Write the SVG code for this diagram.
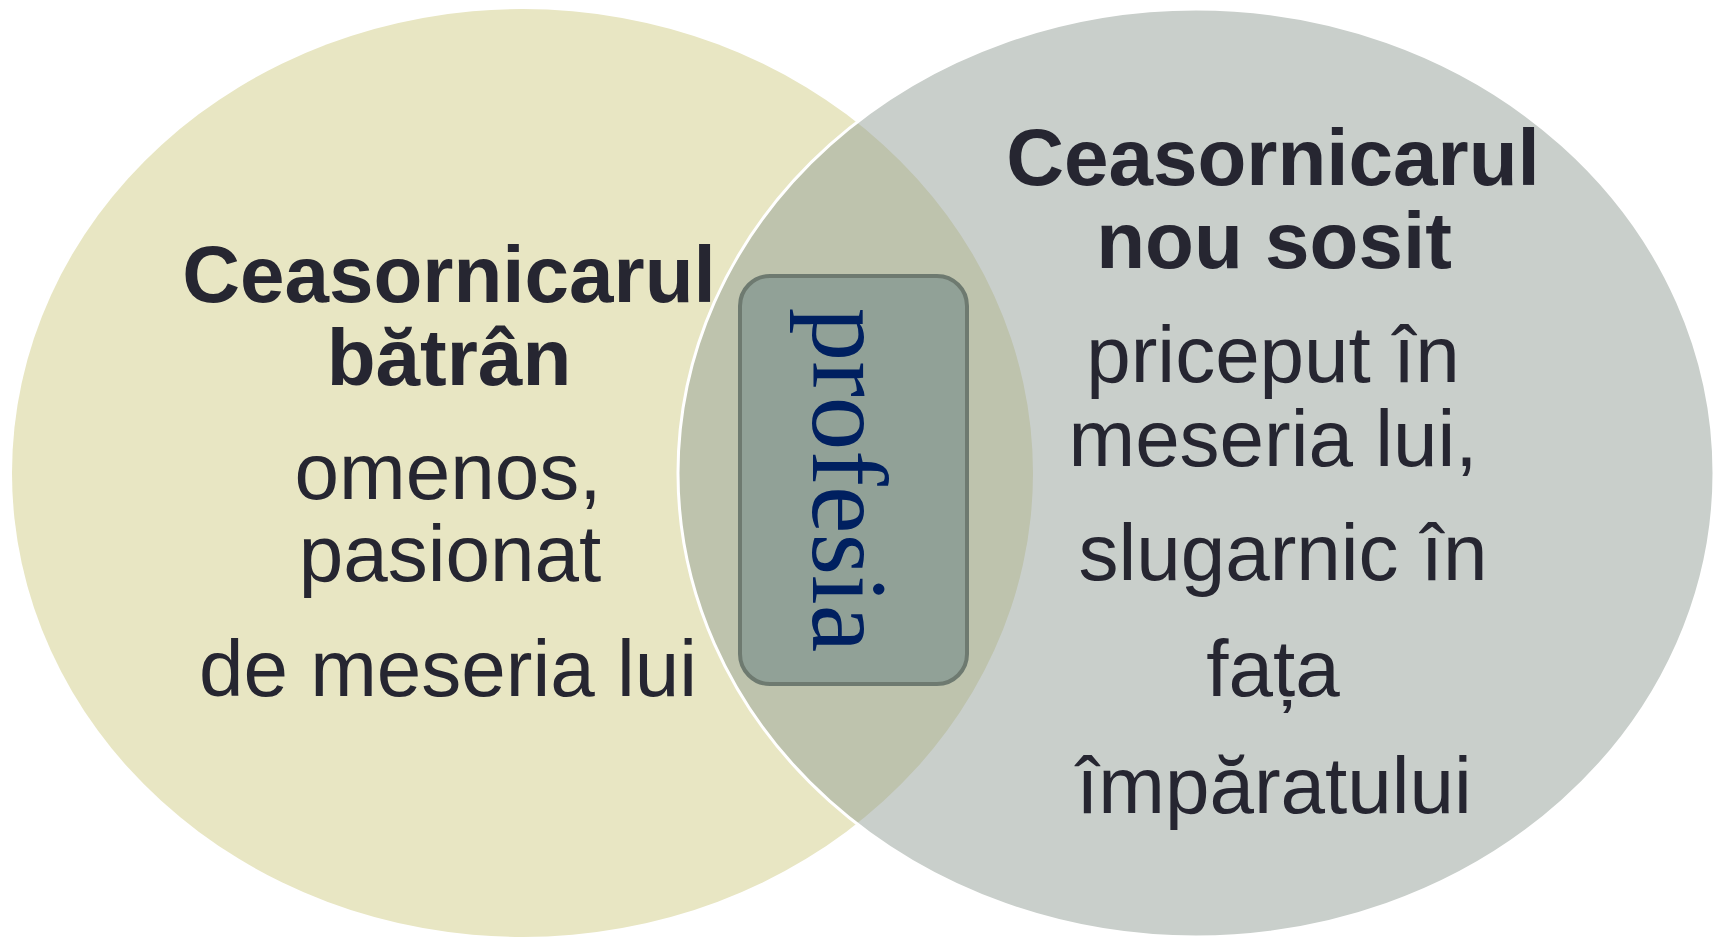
<svg xmlns="http://www.w3.org/2000/svg" width="1719" height="937" viewBox="0 0 1719 937">
<style>
.bold{font-family:"Liberation Sans",Arial,sans-serif;font-weight:bold;font-size:80px;fill:#262631;text-anchor:middle}
.reg{font-family:"Liberation Sans",Arial,sans-serif;font-size:80px;fill:#262631;text-anchor:middle}
.mid{font-family:"Liberation Serif","Times New Roman",serif;font-size:107px;fill:#002060;text-anchor:middle}
</style>
<rect width="1719" height="937" fill="#ffffff"/>
<g id="left-set">
<ellipse cx="522.5" cy="473" rx="510.5" ry="464" fill="#E8E6C3"/>
<text class="bold" x="449" y="302">Ceasornicarul</text>
<text class="bold" x="449" y="385">bătrân</text>
<text class="reg" x="448" y="499">omenos,</text>
<text class="reg" x="450" y="581">pasionat</text>
<text class="reg" x="448" y="696">de meseria lui</text>
</g>
<g id="right-set">
<ellipse cx="1196" cy="473" rx="518" ry="464" fill="#939F97" fill-opacity="0.5" stroke="#ffffff" stroke-width="3"/>
<text class="bold" x="1273" y="185">Ceasornicarul</text>
<text class="bold" x="1274" y="268">nou sosit</text>
<text class="reg" x="1273" y="382">priceput în</text>
<text class="reg" x="1273" y="466">meseria lui,</text>
<text class="reg" x="1283" y="580">slugarnic în</text>
<text class="reg" x="1273" y="696">fața</text>
<text class="reg" x="1274" y="813">împăratului</text>
</g>
<g id="common">
<rect x="740" y="276" width="227" height="408" rx="30" ry="30" fill="#91A197" stroke="#6E7A70" stroke-width="4"/>
<text class="mid" transform="translate(813,480) rotate(90)">profesia</text>
</g>
<g id="connectors"></g>
</svg>
